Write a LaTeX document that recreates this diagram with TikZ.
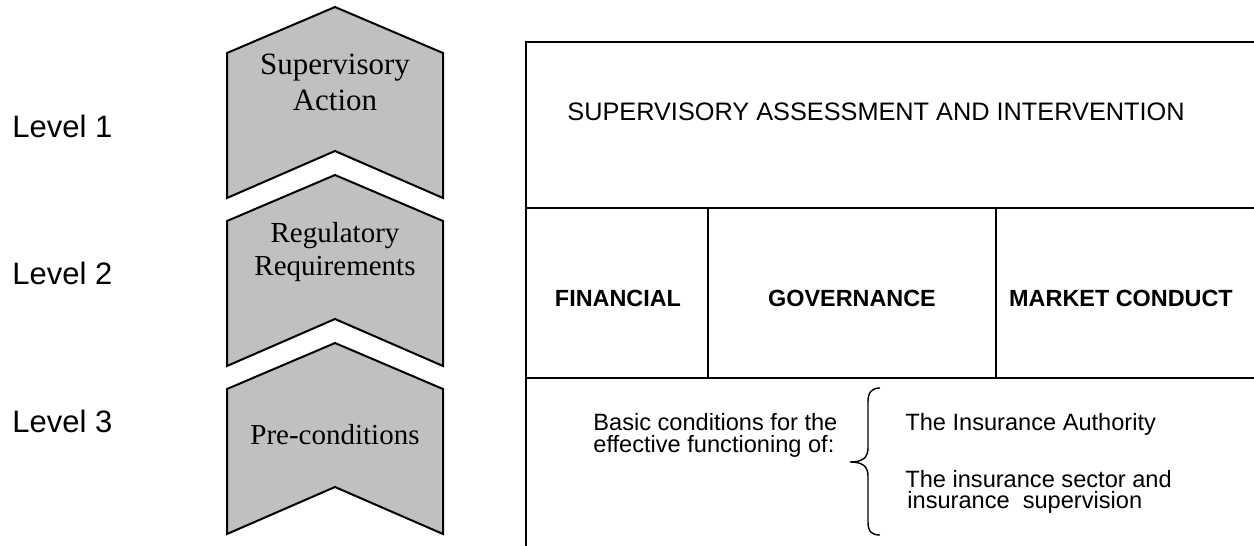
\documentclass[tikz,border=0pt]{standalone}
\usepackage{fontspec}
\setmainfont{Liberation Serif}
\newfontfamily\arial{Liberation Sans}
\definecolor{chevgray}{HTML}{C0C0C0}
\begin{document}
\begin{tikzpicture}[x=0.5pt,y=-0.5pt,
  chev/.style={draw=black, line width=1pt, fill=chevgray, line join=miter},
  gridline/.style={draw=black, line width=1.3pt},
  bracestyle/.style={draw=black, line width=0.7pt},
  lvl/.style={font=\arial\fontsize{15.5}{18}\selectfont, anchor=base west, inner sep=0},
  chevtxt/.style={font=\fontsize{15.5}{18}\selectfont, anchor=base, inner sep=0},
  chevtxtb/.style={font=\fontsize{14.5}{17}\selectfont, anchor=base, inner sep=0},
  toptxt/.style={font=\arial\fontsize{12.65}{15}\selectfont, anchor=center, inner sep=0},
  boldtxt/.style={font=\arial\bfseries\fontsize{11.7}{14}\selectfont, anchor=center, inner sep=0},
  smalltxt/.style={font=\arial\fontsize{11.8}{14}\selectfont, anchor=base west, inner sep=0}
]
\useasboundingbox (0,0) rectangle (1254,546);

% chevrons
\foreach \dy in {0,168,336}{
  \draw[chev] (335,7+\dy) -- (443,53+\dy) -- (443,198+\dy) -- (335,151+\dy)
     -- (227,198+\dy) -- (227,53+\dy) -- cycle;
}

% chevron texts
\node[chevtxt] (c1a) at (335,75) {Supervisory};
\node[chevtxt] (c1b) at (335,110) {Action};
\node[chevtxtb] (c2a) at (335,242) {Regulatory};
\node[chevtxtb] (c2b) at (335,275) {Requirements};
\node[chevtxtb] (c3) at (335,444) {Pre-conditions};

% level labels
\node[lvl] (l1) at (12,137) {Level 1};
\node[lvl] (l2) at (12,284) {Level 2};
\node[lvl] (l3) at (12,432) {Level 3};

% table
\draw[gridline] (526,546) -- (526,42) -- (1254,42);
\draw[gridline] (526,208) -- (1254,208);
\draw[gridline] (526,378) -- (1254,378);
\draw[gridline] (708,208) -- (708,378);
\draw[gridline] (996,208) -- (996,378);

\node[toptxt] (sai) at (876,112) {SUPERVISORY ASSESSMENT AND INTERVENTION};
\node[boldtxt] (fin) at (618,298) {FINANCIAL};
\node[boldtxt] (gov) at (852,298) {GOVERNANCE};
\node[boldtxt] (mc) at (1121,298) {MARKET CONDUCT};

\node[smalltxt] (b1) at (593,430) {Basic conditions for the};
\node[smalltxt] (b2) at (593,452) {effective functioning of:};
\node[smalltxt] (r1) at (905,430) {The Insurance Authority};
\node[smalltxt] (r2) at (905,487) {The insurance sector and};
\node[smalltxt] (r3) at (907,508) {insurance\ \ supervision};

% brace
\draw[bracestyle] (880,388) .. controls (872,388) and (868,392) .. (868,402)
  -- (868,448) .. controls (868,458) and (862,462) .. (850,462)
  .. controls (862,462) and (868,466) .. (868,476)
  -- (868,522) .. controls (868,532) and (872,535) .. (880,535);
\end{tikzpicture}
\end{document}
